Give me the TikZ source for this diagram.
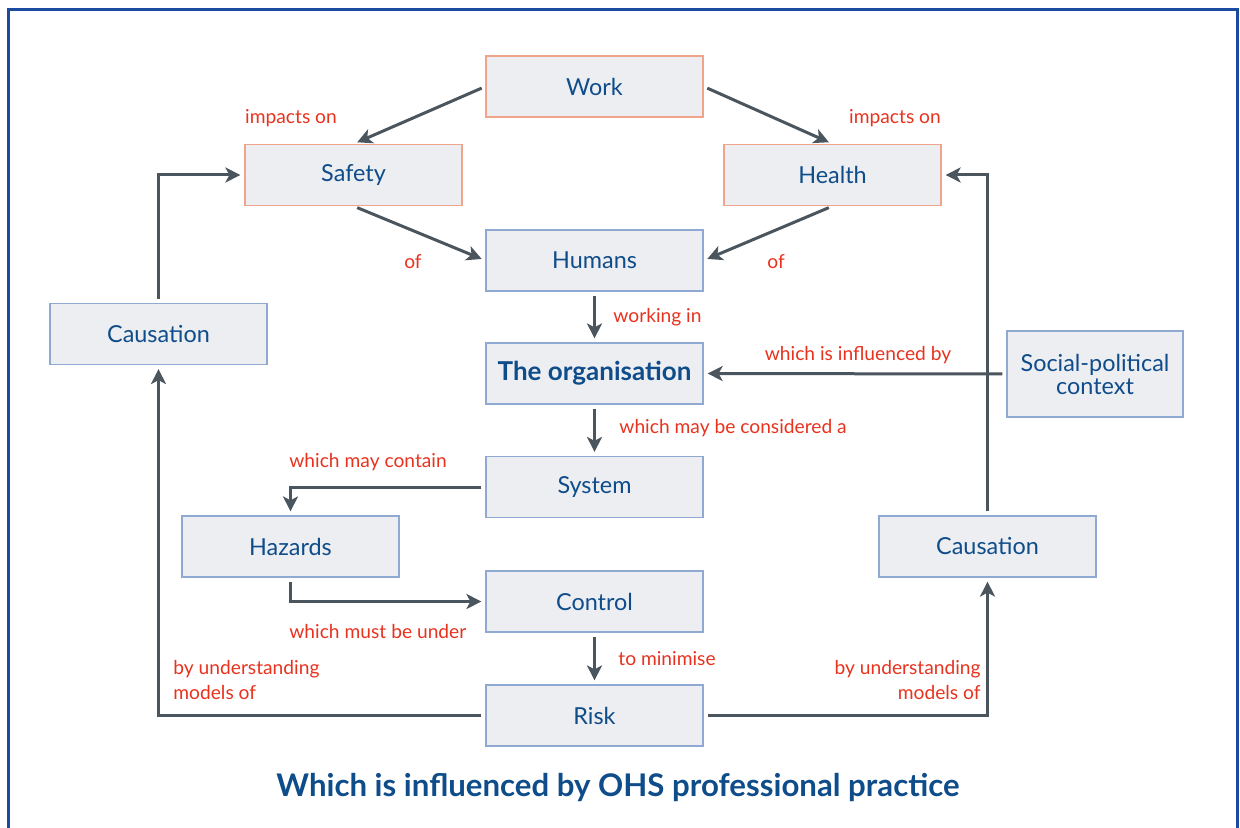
\documentclass[tikz,border=0pt]{standalone}
\usepackage{fontspec}
\setmainfont{Lato}
\usepackage{tikz}
\usetikzlibrary{arrows.meta}

\definecolor{boxfill}{HTML}{ECEEF1}
\definecolor{boxtext}{HTML}{0F4C8A}
\definecolor{edgeorange}{HTML}{F0A58A}
\definecolor{edgeblue}{HTML}{8FA9D2}
\definecolor{labelred}{HTML}{E8321E}
\definecolor{arrowgray}{HTML}{4B555D}
\definecolor{framblue}{HTML}{1B4AA0}

\tikzset{
  box/.style={draw=edgeblue, fill=boxfill, text=boxtext, line width=0.6pt,
    minimum width=108.5pt, minimum height=30.5pt, font=\fontsize{11.7}{13.5}\selectfont, align=center},
  topbox/.style={box, draw=edgeorange},
  lab/.style={text=labelred, font=\fontsize{9.6}{12.5}\selectfont, inner sep=0pt},
  arr/.style={draw=arrowgray, line width=1.5pt, shorten <=2pt, shorten >=2pt,
    -{Stealth[length=7.5pt,width=7.5pt,inset=2pt]}}
}

\begin{document}
\begin{tikzpicture}[x=0.5pt,y=-0.5pt]
\useasboundingbox (0,0) rectangle (1240,828);
\draw[framblue, line width=1.5pt] (8,830) -- (8,10) -- (1237,10) -- (1237,830);

\node[topbox] (work) at (594.5,86.5) {Work};
\node[topbox] (safety) at (353.5,175) {Safety};
\node[topbox] (health) at (832.5,175) {Health};
\node[box] (humans) at (594.5,260.5) {Humans};
\node[box] (causeL) at (158.5,334) {Causation};
\node[box, font=\fontsize{13}{15}\selectfont\bfseries] (org) at (594.5,373.5) {The organisation};
\node[box, minimum width=88pt, minimum height=43pt] (social) at (1095,374) {Social-political\\[-2pt]context};
\node[box] (system) at (594.5,487) {System};
\node[box] (hazards) at (290.5,546.5) {Hazards};
\node[box] (control) at (594.5,601.5) {Control};
\node[box] (causeR) at (987.5,546.5) {Causation};
\node[box] (risk) at (594.5,715.5) {Risk};

\draw[arr] (work.west) -- (safety.north);
\draw[arr] (work.east) -- (health.north);
\draw[arr] (safety.south) -- (humans.west);
\draw[arr] (health.south) -- (humans.east);
\draw[arr] (humans.south) -- (org.north);
\draw[arr] (social.west) -- (org.east);
\draw[arr] (org.south) -- (system.north);
\draw[arr] (system.west) -| (hazards.north);
\draw[arr] (hazards.south) |- (control.west);
\draw[arr] (control.south) -- (risk.north);
\draw[arr] (risk.west) -| (causeL.south);
\draw[arr] (causeL.north) |- (safety.west);
\draw[arr] (risk.east) -| (causeR.south);
\draw[arr] (causeR.north) |- (health.east);

\node[lab] (impL) at (291,118) {impacts on};
\node[lab] (impR) at (895,118) {impacts on};
\node[lab] (ofL) at (413,262) {of};
\node[lab] (ofR) at (776,262) {of};
\node[lab, anchor=west] (workin) at (613,317) {working in};
\node[lab] (influ) at (858,355) {which is influenced by};
\node[lab, anchor=west] (consid) at (619,428) {which may be considered a};
\node[lab, anchor=west] (contain) at (289,462) {which may contain};
\node[lab, anchor=west] (under) at (289,632) {which must be under};
\node[lab, anchor=west] (minim) at (618,659) {to minimise};
\node[lab, anchor=west, align=left] (modL) at (173,680) {by understanding\\models of};
\node[lab, anchor=east, align=right] (modR) at (981,680) {by understanding\\models of};

\node[text=boxtext, font=\fontsize{15.6}{18}\selectfont\bfseries] (title) at (618,788)
  {Which is influenced by OHS professional practice};
\end{tikzpicture}
\end{document}
